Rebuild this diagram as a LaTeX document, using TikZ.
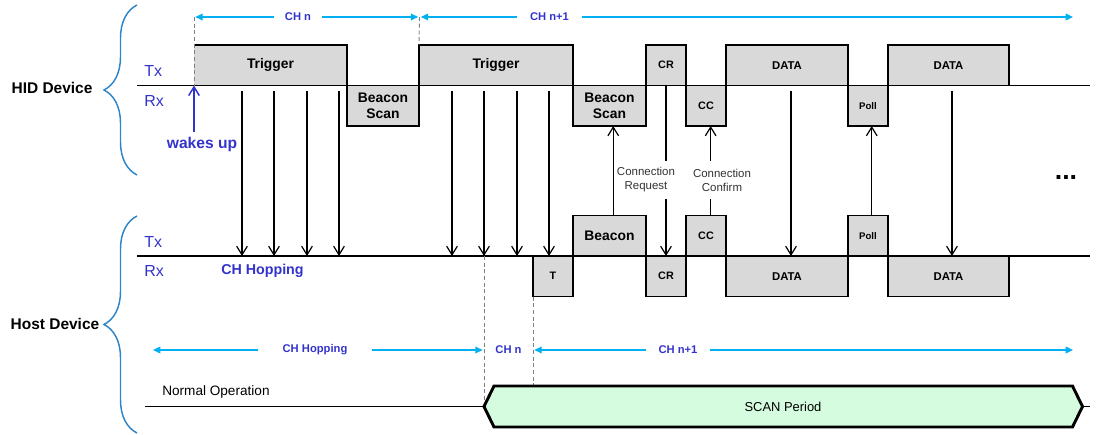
\documentclass[tikz,border=0pt]{standalone}
\usepackage{fontspec}
\setmainfont{Liberation Sans}
\usetikzlibrary{arrows.meta,decorations.pathreplacing}

\definecolor{slotgray}{RGB}{217,217,217}
\definecolor{lblblue}{RGB}{51,51,204}
\definecolor{dimcyan}{RGB}{0,176,240}
\definecolor{bracebl}{RGB}{46,134,200}
\definecolor{scangreen}{RGB}{214,252,224}

\begin{document}
\begin{tikzpicture}[x=0.75pt, y=-0.75pt,
  slot/.style={draw, fill=slotgray, line width=0.9pt, inner sep=0pt, outer sep=0pt,
    anchor=north west, minimum height=30.4pt, align=center,
    font=\bfseries\fontsize{10.4}{12.5}\selectfont},
  small/.style={font=\bfseries\fontsize{8.1}{9.7}\selectfont},
  track/.style={line width=0.9pt},
  msg/.style={line width=0.9pt, -{Straight Barb[length=6.5pt,width=8pt]}},
  guide/.style={gray, line width=0.7pt, dash pattern=on 3pt off 2pt},
  dim/.style={dimcyan, line width=1pt, -{Triangle[length=5.5pt,width=5pt]}},
  chlabel/.style={text=lblblue, inner xsep=0pt, font=\bfseries\fontsize{8.4}{10}\selectfont},
  note/.style={fill=white, text=black!80, align=center, inner sep=1pt, minimum height=29pt,
    font=\fontsize{8.6}{10.5}\selectfont},
  trx/.style={text=lblblue, anchor=west, inner sep=0pt, font=\fontsize{12}{14}\selectfont},
  device/.style={font=\bfseries\fontsize{11.6}{14}\selectfont},
  brace/.style={decorate, decoration={brace, amplitude=24.75pt}, draw=bracebl, line width=1.1pt},
]
\useasboundingbox (0,0) rectangle (1097,435);

% HID device slots
\node[slot, draw=none, minimum width=114.75pt] (trigA) at (194,45)   {Trigger};
\draw[track] (trigA.north west) -| (trigA.south east);
\node[slot, minimum width=54pt]     (scanA)  at (347,85.5) {Beacon\\Scan};
\node[slot, minimum width=115.5pt]  (trigB)  at (419,45)   {Trigger};
\node[slot, minimum width=54.75pt]  (scanB)  at (573,85.5) {Beacon\\Scan};
\node[slot, small, minimum width=30pt] (crH) at (646,45)   {CR};
\node[slot, small, minimum width=30pt] (ccH) at (686,85.5) {CC};
\node[slot, minimum width=91.5pt, font=\bfseries\fontsize{8.5}{10}\selectfont] (dataH) at (726,45) {DATA};
\node[slot, minimum width=30pt, font=\bfseries\fontsize{7.2}{9}\selectfont] (pollH) at (848,85.5) {Poll};
\node[slot, minimum width=90.75pt, font=\bfseries\fontsize{8.5}{10}\selectfont] (dataHb) at (888,45) {DATA};

% host device slots
\node[slot, small, minimum width=30pt] (tR)  at (533,256)   {T};
\node[slot, minimum width=54.75pt] (beaconR) at (573,215.5) {Beacon};
\node[slot, small, minimum width=30pt] (crR) at (646,256)   {CR};
\node[slot, small, minimum width=30pt] (ccR) at (686,215.5) {CC};
\node[slot, minimum width=91.5pt, font=\bfseries\fontsize{8.5}{10}\selectfont] (dataR) at (726,256) {DATA};
\node[slot, minimum width=30pt, font=\bfseries\fontsize{7.2}{9}\selectfont] (pollR) at (848,215.5) {Poll};
\node[slot, minimum width=90.75pt, font=\bfseries\fontsize{8.5}{10}\selectfont] (dataRb) at (888,256) {DATA};

% time lines
\coordinate (hidL)  at (137,85.5);
\coordinate (hidR)  at (1090,85.5);
\coordinate (hostL) at (137,256);
\coordinate (hostR) at (1090,256);
\draw[track] (hidL) -- (hidR);
\draw[track] (hostL) -- (hostR);

\node[trx] (hidTx)  at (144,71)    {Tx};
\node[trx] (hidRx)  at (144,101)   {Rx};
\node[trx] (hostTx) at (144,241.5) {Tx};
\node[trx] (hostRx) at (144,271)   {Rx};

% braces
\draw[brace] (137,175) -- (137,5);
\draw[brace] (137,433) -- (137,216);
\node[device] (hid)  at (52,88)  {HID Device};
\node[device] (host) at (55,324) {Host Device};

% trigger hops
\foreach \x [count=\i] in {242,274,307,339,452,484,517,549}{
  \coordinate (up\i) at (\x,91);
  \coordinate (dn\i) at (\x,256);
  \draw[msg] (up\i) -- (dn\i);
}
\node[anchor=west, text=lblblue, inner sep=0pt, font=\bfseries\fontsize{10.7}{12}\selectfont]
  (hopping) at (221,271) {CH Hopping};

% wake up
\node[text=lblblue, font=\bfseries\fontsize{11.7}{14}\selectfont] (wake) at (202,144) {wakes up};
\draw[lblblue, line width=1.1pt, -{Straight Barb[length=6.5pt,width=8pt]}]
  (wake.north -| trigA.south west) -- (trigA.south west);

% messages
\draw[msg] ([xshift=2.8pt]beaconR.north) -- ([xshift=2.8pt]scanB.south);
\draw[msg] (crH.south) -- (crR.north);
\draw[msg] ([xshift=3.5pt]ccR.north) -- ([xshift=3.5pt]ccH.south);
\draw[msg] ([xshift=3pt,yshift=-4pt]dataH.south) -- ([xshift=3pt]dataR.north);
\draw[msg] ([xshift=2.8pt]pollR.north) -- ([xshift=2.8pt]pollH.south);
\draw[msg] ([xshift=2.6pt,yshift=-4pt]dataHb.south) -- ([xshift=2.6pt]dataRb.north);
\node[note] (creq)  at (646,180) {Connection\\Request};
\node[note] (cconf) at (722,180) {Connection\\Confirm};
\node[font=\bfseries\fontsize{20}{20}\selectfont] (more) at (1066,178) {...};

% channels, top
\coordinate (chA)   at (194,17);
\coordinate (chB)   at (419.5,17);
\coordinate (chEnd) at (1073,17);
\draw[guide] (chA) -- (trigA.south west);
\draw[guide] (chB) -- (trigB.north west);
\node[chlabel, minimum width=36pt]    (lchn)  at (298,17)   {CH n};
\node[chlabel, minimum width=48.75pt] (lchn1) at (549.5,17) {CH n+1};
\draw[dim, shorten >=1pt] (lchn.west) -- (chA);
\draw[dim, shorten >=1pt] (lchn.east) -- (chB);
\draw[dim, shorten >=1pt] (lchn1.west) -- (chB);
\draw[dim] (lchn1.east) -- (chEnd);

% scan period
\coordinate (sL)  at (484,406.5);
\coordinate (sTL) at (494,386);
\coordinate (sTR) at (1072.5,386);
\coordinate (sR)  at (1082.5,406.5);
\coordinate (sBR) at (1072.5,427);
\coordinate (sBL) at (494,427);
\coordinate (sTop) at (533,386);
\coordinate (nL)  at (145,406.5);
\coordinate (nR)  at (1090,406.5);
\draw[guide] (dn6) -- (sL);
\draw[guide] (tR.south west) -- (sTop);
\draw[track] (nL) -- (sL);
\draw[track] (sR) -- (nR);
\draw[fill=scangreen, line width=2.2pt] (sL) -- (sTL) -- (sTR) -- (sR) -- (sBR) -- (sBL) -- cycle;
\node[font=\fontsize{9.7}{12}\selectfont] (scan) at (783,406.5) {SCAN Period};
\node[anchor=west, inner sep=0pt, font=\fontsize{10.2}{12}\selectfont] (normal) at (162,392) {Normal Operation};

% channels, bottom
\coordinate (hopA) at (153,350);
\coordinate (hopB) at (484,350);
\coordinate (hopC) at (533,350);
\coordinate (hopD) at (1073,350);
\node[chlabel, minimum width=85.5pt] (lhop)   at (315,350)   {CH Hopping};
\node[chlabel]                       (lchnb)  at (508.5,350) {CH n};
\node[chlabel, minimum width=48pt]   (lchn1b) at (678,350)   {CH n+1};
\draw[dim] (lhop.west) -- (hopA);
\draw[dim, shorten >=1pt] (lhop.east) -- (hopB);
\draw[dim, shorten >=1pt] (lchn1b.west) -- (hopC);
\draw[dim] (lchn1b.east) -- (hopD);
\end{tikzpicture}
\end{document}
